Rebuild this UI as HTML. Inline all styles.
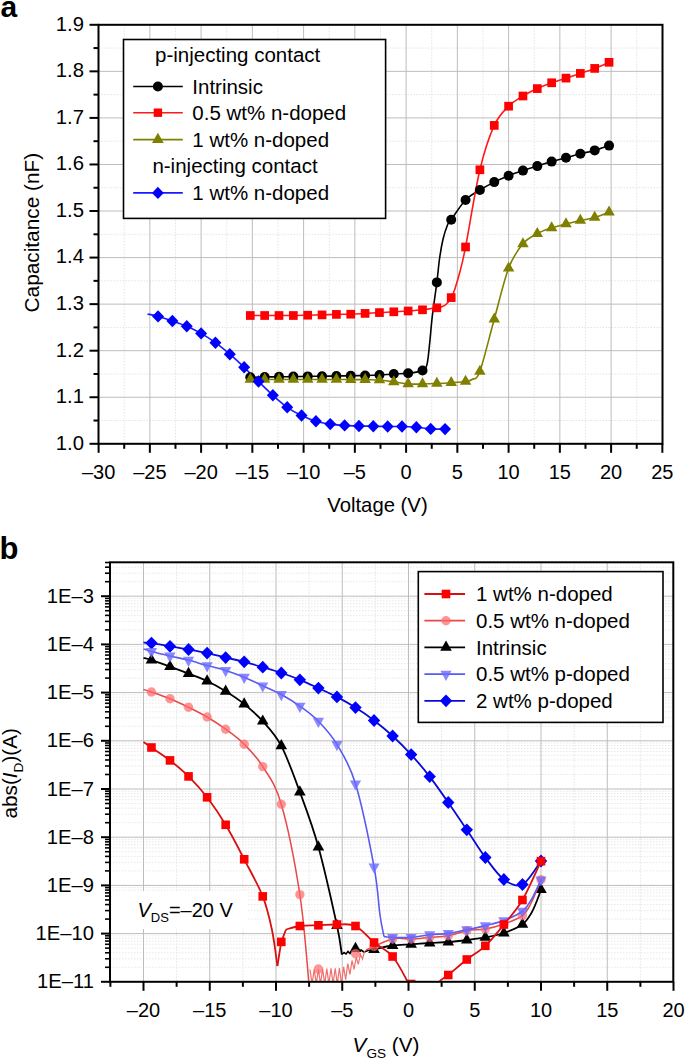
<!DOCTYPE html>
<html><head><meta charset="utf-8"><style>
html,body{margin:0;padding:0;background:#fff;}
body{width:685px;height:1063px;overflow:hidden;font-family:"Liberation Sans", sans-serif;}
svg{display:block;}
</style></head><body>
<svg width="685" height="1063" viewBox="0 0 685 1063" font-family='"Liberation Sans", sans-serif'>
<rect width="685" height="1063" fill="#fff"/>
<text x="0.5" y="16.5" font-size="30" font-weight="bold">a</text>
<line x1="124.23" y1="24.8" x2="124.23" y2="443.8" stroke="#e4e4e4" stroke-width="1" stroke-dasharray="1.5,1.5"/>
<line x1="175.48" y1="24.8" x2="175.48" y2="443.8" stroke="#e4e4e4" stroke-width="1" stroke-dasharray="1.5,1.5"/>
<line x1="226.73" y1="24.8" x2="226.73" y2="443.8" stroke="#e4e4e4" stroke-width="1" stroke-dasharray="1.5,1.5"/>
<line x1="277.98" y1="24.8" x2="277.98" y2="443.8" stroke="#e4e4e4" stroke-width="1" stroke-dasharray="1.5,1.5"/>
<line x1="329.23" y1="24.8" x2="329.23" y2="443.8" stroke="#e4e4e4" stroke-width="1" stroke-dasharray="1.5,1.5"/>
<line x1="380.48" y1="24.8" x2="380.48" y2="443.8" stroke="#e4e4e4" stroke-width="1" stroke-dasharray="1.5,1.5"/>
<line x1="431.73" y1="24.8" x2="431.73" y2="443.8" stroke="#e4e4e4" stroke-width="1" stroke-dasharray="1.5,1.5"/>
<line x1="482.98" y1="24.8" x2="482.98" y2="443.8" stroke="#e4e4e4" stroke-width="1" stroke-dasharray="1.5,1.5"/>
<line x1="534.23" y1="24.8" x2="534.23" y2="443.8" stroke="#e4e4e4" stroke-width="1" stroke-dasharray="1.5,1.5"/>
<line x1="585.48" y1="24.8" x2="585.48" y2="443.8" stroke="#e4e4e4" stroke-width="1" stroke-dasharray="1.5,1.5"/>
<line x1="636.73" y1="24.8" x2="636.73" y2="443.8" stroke="#e4e4e4" stroke-width="1" stroke-dasharray="1.5,1.5"/>
<line x1="98.5" y1="420.52" x2="662.5" y2="420.52" stroke="#e4e4e4" stroke-width="1" stroke-dasharray="1.5,1.5"/>
<line x1="98.5" y1="373.97" x2="662.5" y2="373.97" stroke="#e4e4e4" stroke-width="1" stroke-dasharray="1.5,1.5"/>
<line x1="98.5" y1="327.41" x2="662.5" y2="327.41" stroke="#e4e4e4" stroke-width="1" stroke-dasharray="1.5,1.5"/>
<line x1="98.5" y1="280.85" x2="662.5" y2="280.85" stroke="#e4e4e4" stroke-width="1" stroke-dasharray="1.5,1.5"/>
<line x1="98.5" y1="234.30" x2="662.5" y2="234.30" stroke="#e4e4e4" stroke-width="1" stroke-dasharray="1.5,1.5"/>
<line x1="98.5" y1="187.74" x2="662.5" y2="187.74" stroke="#e4e4e4" stroke-width="1" stroke-dasharray="1.5,1.5"/>
<line x1="98.5" y1="141.19" x2="662.5" y2="141.19" stroke="#e4e4e4" stroke-width="1" stroke-dasharray="1.5,1.5"/>
<line x1="98.5" y1="94.63" x2="662.5" y2="94.63" stroke="#e4e4e4" stroke-width="1" stroke-dasharray="1.5,1.5"/>
<line x1="98.5" y1="48.07" x2="662.5" y2="48.07" stroke="#e4e4e4" stroke-width="1" stroke-dasharray="1.5,1.5"/>
<line x1="149.85" y1="24.8" x2="149.85" y2="443.8" stroke="#bdbdbd" stroke-width="1"/>
<line x1="201.10" y1="24.8" x2="201.10" y2="443.8" stroke="#bdbdbd" stroke-width="1"/>
<line x1="252.35" y1="24.8" x2="252.35" y2="443.8" stroke="#bdbdbd" stroke-width="1"/>
<line x1="303.60" y1="24.8" x2="303.60" y2="443.8" stroke="#bdbdbd" stroke-width="1"/>
<line x1="354.85" y1="24.8" x2="354.85" y2="443.8" stroke="#bdbdbd" stroke-width="1"/>
<line x1="406.10" y1="24.8" x2="406.10" y2="443.8" stroke="#bdbdbd" stroke-width="1"/>
<line x1="457.35" y1="24.8" x2="457.35" y2="443.8" stroke="#bdbdbd" stroke-width="1"/>
<line x1="508.60" y1="24.8" x2="508.60" y2="443.8" stroke="#bdbdbd" stroke-width="1"/>
<line x1="559.85" y1="24.8" x2="559.85" y2="443.8" stroke="#bdbdbd" stroke-width="1"/>
<line x1="611.10" y1="24.8" x2="611.10" y2="443.8" stroke="#bdbdbd" stroke-width="1"/>
<line x1="98.5" y1="397.24" x2="662.5" y2="397.24" stroke="#bdbdbd" stroke-width="1"/>
<line x1="98.5" y1="350.69" x2="662.5" y2="350.69" stroke="#bdbdbd" stroke-width="1"/>
<line x1="98.5" y1="304.13" x2="662.5" y2="304.13" stroke="#bdbdbd" stroke-width="1"/>
<line x1="98.5" y1="257.58" x2="662.5" y2="257.58" stroke="#bdbdbd" stroke-width="1"/>
<line x1="98.5" y1="211.02" x2="662.5" y2="211.02" stroke="#bdbdbd" stroke-width="1"/>
<line x1="98.5" y1="164.46" x2="662.5" y2="164.46" stroke="#bdbdbd" stroke-width="1"/>
<line x1="98.5" y1="117.91" x2="662.5" y2="117.91" stroke="#bdbdbd" stroke-width="1"/>
<line x1="98.5" y1="71.35" x2="662.5" y2="71.35" stroke="#bdbdbd" stroke-width="1"/>
<clipPath id="ca"><rect x="98.5" y="24.8" width="564.0" height="419.0"/></clipPath>
<g clip-path="url(#ca)">
<path d="M147.50,314.00 C149.26,314.40 153.90,315.23 158.05,316.40 C162.20,317.57 167.62,319.37 172.40,321.00 C177.18,322.63 181.97,324.13 186.75,326.20 C191.53,328.27 196.32,330.65 201.10,333.40 C205.88,336.15 210.67,339.23 215.45,342.70 C220.23,346.17 225.02,350.10 229.80,354.20 C234.58,358.30 239.37,362.75 244.15,367.30 C248.93,371.85 253.72,376.83 258.50,381.50 C263.28,386.17 268.07,391.00 272.85,395.30 C277.63,399.60 282.42,403.93 287.20,407.30 C291.98,410.67 296.77,413.18 301.55,415.50 C306.33,417.82 311.12,419.77 315.90,421.20 C320.68,422.63 325.47,423.40 330.25,424.10 C335.03,424.80 339.82,425.08 344.60,425.40 C349.38,425.72 354.17,425.87 358.95,426.00 C363.73,426.13 368.52,426.12 373.30,426.20 C378.08,426.28 382.87,426.45 387.65,426.50 C392.43,426.55 397.22,426.37 402.00,426.50 C406.78,426.63 411.57,426.90 416.35,427.30 C421.13,427.70 425.92,428.60 430.70,428.90 C435.48,429.20 442.66,429.07 445.05,429.10" fill="none" stroke="#1a1aff" stroke-width="1.6"/>
<path d="M250.30,379.50 C252.69,379.50 259.87,379.50 264.65,379.50 C269.43,379.50 274.22,379.50 279.00,379.50 C283.78,379.50 288.57,379.50 293.35,379.50 C298.13,379.50 302.92,379.50 307.70,379.50 C312.48,379.50 317.27,379.50 322.05,379.50 C326.83,379.50 331.62,379.48 336.40,379.50 C341.18,379.52 345.97,379.57 350.75,379.60 C355.53,379.63 360.32,379.63 365.10,379.70 C369.88,379.77 374.67,379.65 379.45,380.00 C384.23,380.35 389.02,381.13 393.80,381.80 C398.58,382.47 403.37,383.63 408.15,384.00 C412.93,384.37 417.72,384.08 422.50,384.00 C427.28,383.92 432.07,383.72 436.85,383.50 C441.63,383.28 446.42,383.03 451.20,382.70 C455.98,382.37 462.08,382.03 465.55,381.50 C469.02,380.97 469.61,381.20 472.00,379.50 C474.39,377.80 476.19,381.35 479.90,371.30 C483.61,361.25 489.47,336.38 494.25,319.20 C499.03,302.02 503.82,280.77 508.60,268.20 C513.38,255.63 518.17,249.57 522.95,243.80 C527.73,238.03 532.52,236.25 537.30,233.60 C542.08,230.95 546.87,229.52 551.65,227.90 C556.43,226.28 561.22,225.13 566.00,223.90 C570.78,222.67 575.57,221.58 580.35,220.50 C585.13,219.42 589.92,218.80 594.70,217.40 C599.48,216.00 606.66,212.98 609.05,212.10" fill="none" stroke="#808000" stroke-width="1.6"/>
<path d="M250.30,377.30 C252.69,377.25 259.87,377.08 264.65,377.00 C269.43,376.92 274.22,376.87 279.00,376.80 C283.78,376.73 288.57,376.67 293.35,376.60 C298.13,376.53 302.92,376.47 307.70,376.40 C312.48,376.33 317.27,376.27 322.05,376.20 C326.83,376.13 331.62,376.07 336.40,376.00 C341.18,375.93 345.97,375.88 350.75,375.80 C355.53,375.72 360.32,375.63 365.10,375.50 C369.88,375.37 374.67,375.25 379.45,375.00 C384.23,374.75 389.02,374.28 393.80,374.00 C398.58,373.72 403.37,373.88 408.15,373.30 C412.93,372.72 419.36,371.98 422.50,370.50 C425.64,369.02 425.80,368.98 427.00,364.40 C428.20,359.82 428.82,351.03 429.70,343.00 C430.58,334.97 431.11,326.30 432.30,316.20 C433.49,306.10 435.65,291.93 436.85,282.40 C438.05,272.87 438.48,266.18 439.50,259.00 C440.52,251.82 441.67,244.97 443.00,239.30 C444.33,233.63 446.13,228.27 447.50,225.00 C448.87,221.73 448.19,223.87 451.20,219.70 C454.21,215.53 460.77,204.95 465.55,200.00 C470.33,195.05 475.12,192.98 479.90,190.00 C484.68,187.02 489.47,184.47 494.25,182.10 C499.03,179.73 503.82,177.72 508.60,175.80 C513.38,173.88 518.17,172.22 522.95,170.60 C527.73,168.98 532.52,167.60 537.30,166.10 C542.08,164.60 546.87,163.00 551.65,161.60 C556.43,160.20 561.22,159.00 566.00,157.70 C570.78,156.40 575.57,155.02 580.35,153.80 C585.13,152.58 589.92,151.77 594.70,150.40 C599.48,149.03 606.66,146.40 609.05,145.60" fill="none" stroke="#000" stroke-width="1.6"/>
<path d="M250.30,315.50 C252.69,315.50 259.87,315.50 264.65,315.50 C269.43,315.50 274.22,315.50 279.00,315.50 C283.78,315.50 288.57,315.55 293.35,315.50 C298.13,315.45 302.92,315.30 307.70,315.20 C312.48,315.10 317.27,315.03 322.05,314.90 C326.83,314.77 331.62,314.52 336.40,314.40 C341.18,314.28 345.97,314.37 350.75,314.20 C355.53,314.03 360.32,313.67 365.10,313.40 C369.88,313.13 374.67,312.87 379.45,312.60 C384.23,312.33 389.02,312.07 393.80,311.80 C398.58,311.53 403.37,311.33 408.15,311.00 C412.93,310.67 417.72,310.33 422.50,309.80 C427.28,309.27 433.72,308.27 436.85,307.80 C439.98,307.33 439.69,307.63 441.30,307.00 C442.91,306.37 444.85,305.57 446.50,304.00 C448.15,302.43 449.83,300.03 451.20,297.60 C452.57,295.17 453.23,293.75 454.70,289.40 C456.17,285.05 458.19,278.57 460.00,271.50 C461.81,264.43 462.23,263.95 465.55,247.00 C468.87,230.05 475.12,190.07 479.90,169.80 C484.68,149.53 489.47,136.00 494.25,125.40 C499.03,114.80 503.82,111.10 508.60,106.20 C513.38,101.30 518.17,98.93 522.95,96.00 C527.73,93.07 532.52,90.80 537.30,88.60 C542.08,86.40 546.87,84.55 551.65,82.80 C556.43,81.05 561.22,79.67 566.00,78.10 C570.78,76.53 575.57,75.02 580.35,73.40 C585.13,71.78 589.92,70.25 594.70,68.40 C599.48,66.55 606.66,63.32 609.05,62.30" fill="none" stroke="#ff1a1a" stroke-width="1.6"/>
<circle cx="250.30" cy="377.30" r="5.0" fill="#000" fill-opacity="1"/>
<circle cx="264.65" cy="377.00" r="5.0" fill="#000" fill-opacity="1"/>
<circle cx="279.00" cy="376.80" r="5.0" fill="#000" fill-opacity="1"/>
<circle cx="293.35" cy="376.60" r="5.0" fill="#000" fill-opacity="1"/>
<circle cx="307.70" cy="376.40" r="5.0" fill="#000" fill-opacity="1"/>
<circle cx="322.05" cy="376.20" r="5.0" fill="#000" fill-opacity="1"/>
<circle cx="336.40" cy="376.00" r="5.0" fill="#000" fill-opacity="1"/>
<circle cx="350.75" cy="375.80" r="5.0" fill="#000" fill-opacity="1"/>
<circle cx="365.10" cy="375.50" r="5.0" fill="#000" fill-opacity="1"/>
<circle cx="379.45" cy="375.00" r="5.0" fill="#000" fill-opacity="1"/>
<circle cx="393.80" cy="374.00" r="5.0" fill="#000" fill-opacity="1"/>
<circle cx="408.15" cy="373.30" r="5.0" fill="#000" fill-opacity="1"/>
<circle cx="422.50" cy="370.50" r="5.0" fill="#000" fill-opacity="1"/>
<circle cx="436.85" cy="282.40" r="5.0" fill="#000" fill-opacity="1"/>
<circle cx="451.20" cy="219.70" r="5.0" fill="#000" fill-opacity="1"/>
<circle cx="465.55" cy="200.00" r="5.0" fill="#000" fill-opacity="1"/>
<circle cx="479.90" cy="190.00" r="5.0" fill="#000" fill-opacity="1"/>
<circle cx="494.25" cy="182.10" r="5.0" fill="#000" fill-opacity="1"/>
<circle cx="508.60" cy="175.80" r="5.0" fill="#000" fill-opacity="1"/>
<circle cx="522.95" cy="170.60" r="5.0" fill="#000" fill-opacity="1"/>
<circle cx="537.30" cy="166.10" r="5.0" fill="#000" fill-opacity="1"/>
<circle cx="551.65" cy="161.60" r="5.0" fill="#000" fill-opacity="1"/>
<circle cx="566.00" cy="157.70" r="5.0" fill="#000" fill-opacity="1"/>
<circle cx="580.35" cy="153.80" r="5.0" fill="#000" fill-opacity="1"/>
<circle cx="594.70" cy="150.40" r="5.0" fill="#000" fill-opacity="1"/>
<circle cx="609.05" cy="145.60" r="5.0" fill="#000" fill-opacity="1"/>
<path d="M250.30,372.83 L256.05,382.83 L244.55,382.83 Z" fill="#808000" fill-opacity="1"/>
<path d="M264.65,372.83 L270.40,382.83 L258.90,382.83 Z" fill="#808000" fill-opacity="1"/>
<path d="M279.00,372.83 L284.75,382.83 L273.25,382.83 Z" fill="#808000" fill-opacity="1"/>
<path d="M293.35,372.83 L299.10,382.83 L287.60,382.83 Z" fill="#808000" fill-opacity="1"/>
<path d="M307.70,372.83 L313.45,382.83 L301.95,382.83 Z" fill="#808000" fill-opacity="1"/>
<path d="M322.05,372.83 L327.80,382.83 L316.30,382.83 Z" fill="#808000" fill-opacity="1"/>
<path d="M336.40,372.83 L342.15,382.83 L330.65,382.83 Z" fill="#808000" fill-opacity="1"/>
<path d="M350.75,372.93 L356.50,382.93 L345.00,382.93 Z" fill="#808000" fill-opacity="1"/>
<path d="M365.10,373.03 L370.85,383.03 L359.35,383.03 Z" fill="#808000" fill-opacity="1"/>
<path d="M379.45,373.33 L385.20,383.33 L373.70,383.33 Z" fill="#808000" fill-opacity="1"/>
<path d="M393.80,375.13 L399.55,385.13 L388.05,385.13 Z" fill="#808000" fill-opacity="1"/>
<path d="M408.15,377.33 L413.90,387.33 L402.40,387.33 Z" fill="#808000" fill-opacity="1"/>
<path d="M422.50,377.33 L428.25,387.33 L416.75,387.33 Z" fill="#808000" fill-opacity="1"/>
<path d="M436.85,376.83 L442.60,386.83 L431.10,386.83 Z" fill="#808000" fill-opacity="1"/>
<path d="M451.20,376.03 L456.95,386.03 L445.45,386.03 Z" fill="#808000" fill-opacity="1"/>
<path d="M465.55,374.83 L471.30,384.83 L459.80,384.83 Z" fill="#808000" fill-opacity="1"/>
<path d="M479.90,364.63 L485.65,374.63 L474.15,374.63 Z" fill="#808000" fill-opacity="1"/>
<path d="M494.25,312.53 L500.00,322.53 L488.50,322.53 Z" fill="#808000" fill-opacity="1"/>
<path d="M508.60,261.53 L514.35,271.53 L502.85,271.53 Z" fill="#808000" fill-opacity="1"/>
<path d="M522.95,237.13 L528.70,247.13 L517.20,247.13 Z" fill="#808000" fill-opacity="1"/>
<path d="M537.30,226.93 L543.05,236.93 L531.55,236.93 Z" fill="#808000" fill-opacity="1"/>
<path d="M551.65,221.23 L557.40,231.23 L545.90,231.23 Z" fill="#808000" fill-opacity="1"/>
<path d="M566.00,217.23 L571.75,227.23 L560.25,227.23 Z" fill="#808000" fill-opacity="1"/>
<path d="M580.35,213.83 L586.10,223.83 L574.60,223.83 Z" fill="#808000" fill-opacity="1"/>
<path d="M594.70,210.73 L600.45,220.73 L588.95,220.73 Z" fill="#808000" fill-opacity="1"/>
<path d="M609.05,205.43 L614.80,215.43 L603.30,215.43 Z" fill="#808000" fill-opacity="1"/>
<rect x="245.95" y="311.15" width="8.7" height="8.7" fill="#ff0000" fill-opacity="1"/>
<rect x="260.30" y="311.15" width="8.7" height="8.7" fill="#ff0000" fill-opacity="1"/>
<rect x="274.65" y="311.15" width="8.7" height="8.7" fill="#ff0000" fill-opacity="1"/>
<rect x="289.00" y="311.15" width="8.7" height="8.7" fill="#ff0000" fill-opacity="1"/>
<rect x="303.35" y="310.85" width="8.7" height="8.7" fill="#ff0000" fill-opacity="1"/>
<rect x="317.70" y="310.55" width="8.7" height="8.7" fill="#ff0000" fill-opacity="1"/>
<rect x="332.05" y="310.05" width="8.7" height="8.7" fill="#ff0000" fill-opacity="1"/>
<rect x="346.40" y="309.85" width="8.7" height="8.7" fill="#ff0000" fill-opacity="1"/>
<rect x="360.75" y="309.05" width="8.7" height="8.7" fill="#ff0000" fill-opacity="1"/>
<rect x="375.10" y="308.25" width="8.7" height="8.7" fill="#ff0000" fill-opacity="1"/>
<rect x="389.45" y="307.45" width="8.7" height="8.7" fill="#ff0000" fill-opacity="1"/>
<rect x="403.80" y="306.65" width="8.7" height="8.7" fill="#ff0000" fill-opacity="1"/>
<rect x="418.15" y="305.45" width="8.7" height="8.7" fill="#ff0000" fill-opacity="1"/>
<rect x="432.50" y="303.45" width="8.7" height="8.7" fill="#ff0000" fill-opacity="1"/>
<rect x="446.85" y="293.25" width="8.7" height="8.7" fill="#ff0000" fill-opacity="1"/>
<rect x="461.20" y="242.65" width="8.7" height="8.7" fill="#ff0000" fill-opacity="1"/>
<rect x="475.55" y="165.45" width="8.7" height="8.7" fill="#ff0000" fill-opacity="1"/>
<rect x="489.90" y="121.05" width="8.7" height="8.7" fill="#ff0000" fill-opacity="1"/>
<rect x="504.25" y="101.85" width="8.7" height="8.7" fill="#ff0000" fill-opacity="1"/>
<rect x="518.60" y="91.65" width="8.7" height="8.7" fill="#ff0000" fill-opacity="1"/>
<rect x="532.95" y="84.25" width="8.7" height="8.7" fill="#ff0000" fill-opacity="1"/>
<rect x="547.30" y="78.45" width="8.7" height="8.7" fill="#ff0000" fill-opacity="1"/>
<rect x="561.65" y="73.75" width="8.7" height="8.7" fill="#ff0000" fill-opacity="1"/>
<rect x="576.00" y="69.05" width="8.7" height="8.7" fill="#ff0000" fill-opacity="1"/>
<rect x="590.35" y="64.05" width="8.7" height="8.7" fill="#ff0000" fill-opacity="1"/>
<rect x="604.70" y="57.95" width="8.7" height="8.7" fill="#ff0000" fill-opacity="1"/>
<path d="M158.05,310.20 L164.05,316.40 L158.05,322.60 L152.05,316.40 Z" fill="#0000ff" fill-opacity="1"/>
<path d="M172.40,314.80 L178.40,321.00 L172.40,327.20 L166.40,321.00 Z" fill="#0000ff" fill-opacity="1"/>
<path d="M186.75,320.00 L192.75,326.20 L186.75,332.40 L180.75,326.20 Z" fill="#0000ff" fill-opacity="1"/>
<path d="M201.10,327.20 L207.10,333.40 L201.10,339.60 L195.10,333.40 Z" fill="#0000ff" fill-opacity="1"/>
<path d="M215.45,336.50 L221.45,342.70 L215.45,348.90 L209.45,342.70 Z" fill="#0000ff" fill-opacity="1"/>
<path d="M229.80,348.00 L235.80,354.20 L229.80,360.40 L223.80,354.20 Z" fill="#0000ff" fill-opacity="1"/>
<path d="M244.15,361.10 L250.15,367.30 L244.15,373.50 L238.15,367.30 Z" fill="#0000ff" fill-opacity="1"/>
<path d="M258.50,375.30 L264.50,381.50 L258.50,387.70 L252.50,381.50 Z" fill="#0000ff" fill-opacity="1"/>
<path d="M272.85,389.10 L278.85,395.30 L272.85,401.50 L266.85,395.30 Z" fill="#0000ff" fill-opacity="1"/>
<path d="M287.20,401.10 L293.20,407.30 L287.20,413.50 L281.20,407.30 Z" fill="#0000ff" fill-opacity="1"/>
<path d="M301.55,409.30 L307.55,415.50 L301.55,421.70 L295.55,415.50 Z" fill="#0000ff" fill-opacity="1"/>
<path d="M315.90,415.00 L321.90,421.20 L315.90,427.40 L309.90,421.20 Z" fill="#0000ff" fill-opacity="1"/>
<path d="M330.25,417.90 L336.25,424.10 L330.25,430.30 L324.25,424.10 Z" fill="#0000ff" fill-opacity="1"/>
<path d="M344.60,419.20 L350.60,425.40 L344.60,431.60 L338.60,425.40 Z" fill="#0000ff" fill-opacity="1"/>
<path d="M358.95,419.80 L364.95,426.00 L358.95,432.20 L352.95,426.00 Z" fill="#0000ff" fill-opacity="1"/>
<path d="M373.30,420.00 L379.30,426.20 L373.30,432.40 L367.30,426.20 Z" fill="#0000ff" fill-opacity="1"/>
<path d="M387.65,420.30 L393.65,426.50 L387.65,432.70 L381.65,426.50 Z" fill="#0000ff" fill-opacity="1"/>
<path d="M402.00,420.30 L408.00,426.50 L402.00,432.70 L396.00,426.50 Z" fill="#0000ff" fill-opacity="1"/>
<path d="M416.35,421.10 L422.35,427.30 L416.35,433.50 L410.35,427.30 Z" fill="#0000ff" fill-opacity="1"/>
<path d="M430.70,422.70 L436.70,428.90 L430.70,435.10 L424.70,428.90 Z" fill="#0000ff" fill-opacity="1"/>
<path d="M445.05,422.90 L451.05,429.10 L445.05,435.30 L439.05,429.10 Z" fill="#0000ff" fill-opacity="1"/>
</g>
<rect x="98.5" y="24.8" width="564.0" height="419.0" fill="none" stroke="#000" stroke-width="2"/>
<text x="84.0" y="449.70" font-size="20.3" text-anchor="end">1.0</text>
<text x="84.0" y="403.14" font-size="20.3" text-anchor="end">1.1</text>
<text x="84.0" y="356.59" font-size="20.3" text-anchor="end">1.2</text>
<text x="84.0" y="310.03" font-size="20.3" text-anchor="end">1.3</text>
<text x="84.0" y="263.48" font-size="20.3" text-anchor="end">1.4</text>
<text x="84.0" y="216.92" font-size="20.3" text-anchor="end">1.5</text>
<text x="84.0" y="170.36" font-size="20.3" text-anchor="end">1.6</text>
<text x="84.0" y="123.81" font-size="20.3" text-anchor="end">1.7</text>
<text x="84.0" y="77.25" font-size="20.3" text-anchor="end">1.8</text>
<text x="84.0" y="30.70" font-size="20.3" text-anchor="end">1.9</text>
<text x="98.60" y="479" font-size="20" text-anchor="middle">–30</text>
<text x="149.85" y="479" font-size="20" text-anchor="middle">–25</text>
<text x="201.10" y="479" font-size="20" text-anchor="middle">–20</text>
<text x="252.35" y="479" font-size="20" text-anchor="middle">–15</text>
<text x="303.60" y="479" font-size="20" text-anchor="middle">–10</text>
<text x="354.85" y="479" font-size="20" text-anchor="middle">–5</text>
<text x="406.10" y="479" font-size="20" text-anchor="middle">0</text>
<text x="457.35" y="479" font-size="20" text-anchor="middle">5</text>
<text x="508.60" y="479" font-size="20" text-anchor="middle">10</text>
<text x="559.85" y="479" font-size="20" text-anchor="middle">15</text>
<text x="611.10" y="479" font-size="20" text-anchor="middle">20</text>
<text x="662.35" y="479" font-size="20" text-anchor="middle">25</text>
<line x1="89.5" y1="443.80" x2="98.5" y2="443.80" stroke="#000" stroke-width="2"/>
<line x1="89.5" y1="397.24" x2="98.5" y2="397.24" stroke="#000" stroke-width="2"/>
<line x1="89.5" y1="350.69" x2="98.5" y2="350.69" stroke="#000" stroke-width="2"/>
<line x1="89.5" y1="304.13" x2="98.5" y2="304.13" stroke="#000" stroke-width="2"/>
<line x1="89.5" y1="257.58" x2="98.5" y2="257.58" stroke="#000" stroke-width="2"/>
<line x1="89.5" y1="211.02" x2="98.5" y2="211.02" stroke="#000" stroke-width="2"/>
<line x1="89.5" y1="164.46" x2="98.5" y2="164.46" stroke="#000" stroke-width="2"/>
<line x1="89.5" y1="117.91" x2="98.5" y2="117.91" stroke="#000" stroke-width="2"/>
<line x1="89.5" y1="71.35" x2="98.5" y2="71.35" stroke="#000" stroke-width="2"/>
<line x1="89.5" y1="24.80" x2="98.5" y2="24.80" stroke="#000" stroke-width="2"/>
<line x1="93.5" y1="420.52" x2="98.5" y2="420.52" stroke="#000" stroke-width="2"/>
<line x1="93.5" y1="373.97" x2="98.5" y2="373.97" stroke="#000" stroke-width="2"/>
<line x1="93.5" y1="327.41" x2="98.5" y2="327.41" stroke="#000" stroke-width="2"/>
<line x1="93.5" y1="280.85" x2="98.5" y2="280.85" stroke="#000" stroke-width="2"/>
<line x1="93.5" y1="234.30" x2="98.5" y2="234.30" stroke="#000" stroke-width="2"/>
<line x1="93.5" y1="187.74" x2="98.5" y2="187.74" stroke="#000" stroke-width="2"/>
<line x1="93.5" y1="141.19" x2="98.5" y2="141.19" stroke="#000" stroke-width="2"/>
<line x1="93.5" y1="94.63" x2="98.5" y2="94.63" stroke="#000" stroke-width="2"/>
<line x1="93.5" y1="48.07" x2="98.5" y2="48.07" stroke="#000" stroke-width="2"/>
<line x1="98.60" y1="443.8" x2="98.60" y2="452.8" stroke="#000" stroke-width="2"/>
<line x1="149.85" y1="443.8" x2="149.85" y2="452.8" stroke="#000" stroke-width="2"/>
<line x1="201.10" y1="443.8" x2="201.10" y2="452.8" stroke="#000" stroke-width="2"/>
<line x1="252.35" y1="443.8" x2="252.35" y2="452.8" stroke="#000" stroke-width="2"/>
<line x1="303.60" y1="443.8" x2="303.60" y2="452.8" stroke="#000" stroke-width="2"/>
<line x1="354.85" y1="443.8" x2="354.85" y2="452.8" stroke="#000" stroke-width="2"/>
<line x1="406.10" y1="443.8" x2="406.10" y2="452.8" stroke="#000" stroke-width="2"/>
<line x1="457.35" y1="443.8" x2="457.35" y2="452.8" stroke="#000" stroke-width="2"/>
<line x1="508.60" y1="443.8" x2="508.60" y2="452.8" stroke="#000" stroke-width="2"/>
<line x1="559.85" y1="443.8" x2="559.85" y2="452.8" stroke="#000" stroke-width="2"/>
<line x1="611.10" y1="443.8" x2="611.10" y2="452.8" stroke="#000" stroke-width="2"/>
<line x1="662.35" y1="443.8" x2="662.35" y2="452.8" stroke="#000" stroke-width="2"/>
<line x1="124.23" y1="443.8" x2="124.23" y2="448.8" stroke="#000" stroke-width="2"/>
<line x1="175.48" y1="443.8" x2="175.48" y2="448.8" stroke="#000" stroke-width="2"/>
<line x1="226.73" y1="443.8" x2="226.73" y2="448.8" stroke="#000" stroke-width="2"/>
<line x1="277.98" y1="443.8" x2="277.98" y2="448.8" stroke="#000" stroke-width="2"/>
<line x1="329.23" y1="443.8" x2="329.23" y2="448.8" stroke="#000" stroke-width="2"/>
<line x1="380.48" y1="443.8" x2="380.48" y2="448.8" stroke="#000" stroke-width="2"/>
<line x1="431.73" y1="443.8" x2="431.73" y2="448.8" stroke="#000" stroke-width="2"/>
<line x1="482.98" y1="443.8" x2="482.98" y2="448.8" stroke="#000" stroke-width="2"/>
<line x1="534.23" y1="443.8" x2="534.23" y2="448.8" stroke="#000" stroke-width="2"/>
<line x1="585.48" y1="443.8" x2="585.48" y2="448.8" stroke="#000" stroke-width="2"/>
<line x1="636.73" y1="443.8" x2="636.73" y2="448.8" stroke="#000" stroke-width="2"/>
<text x="327.3" y="512" font-size="20.3">Voltage (V)</text>
<text transform="translate(39.4,232.65) rotate(-90)" font-size="20.8" text-anchor="middle">Capacitance (nF)</text>
<rect x="123.5" y="39.5" width="262.1" height="178.9" fill="#fff" stroke="#000" stroke-width="1.6"/>
<text x="155.0" y="61.5" font-size="20.5">p-injecting contact</text>
<line x1="133.2" y1="86.5" x2="182.8" y2="86.5" stroke="#000" stroke-width="1.6"/>
<circle cx="157.90" cy="86.50" r="5.0" fill="#000" fill-opacity="1"/>
<text x="192.3" y="93.70" font-size="20.5">Intrinsic</text>
<line x1="133.2" y1="112.7" x2="182.8" y2="112.7" stroke="#ff1a1a" stroke-width="1.6"/>
<rect x="153.70" y="108.50" width="8.4" height="8.4" fill="#ff0000" fill-opacity="1"/>
<text x="192.3" y="119.90" font-size="20.5">0.5 wt% n-doped</text>
<line x1="133.2" y1="139.6" x2="182.8" y2="139.6" stroke="#808000" stroke-width="1.6"/>
<path d="M157.90,132.73 L163.80,143.03 L152.00,143.03 Z" fill="#808000" fill-opacity="1"/>
<text x="192.3" y="146.80" font-size="20.5">1 wt% n-doped</text>
<line x1="133.2" y1="192.9" x2="182.8" y2="192.9" stroke="#1a1aff" stroke-width="1.6"/>
<path d="M157.90,186.70 L163.80,192.90 L157.90,199.10 L152.00,192.90 Z" fill="#0000ff" fill-opacity="1"/>
<text x="192.3" y="200.10" font-size="20.5">1 wt% n-doped</text>
<text x="152.4" y="173.0" font-size="20.5">n-injecting contact</text>
<text x="-0.4" y="559.0" font-size="31" font-weight="bold">b</text>
<line x1="176.62" y1="562.3" x2="176.62" y2="981.8" stroke="#e4e4e4" stroke-width="1" stroke-dasharray="1.5,1.5"/>
<line x1="242.88" y1="562.3" x2="242.88" y2="981.8" stroke="#e4e4e4" stroke-width="1" stroke-dasharray="1.5,1.5"/>
<line x1="309.12" y1="562.3" x2="309.12" y2="981.8" stroke="#e4e4e4" stroke-width="1" stroke-dasharray="1.5,1.5"/>
<line x1="375.38" y1="562.3" x2="375.38" y2="981.8" stroke="#e4e4e4" stroke-width="1" stroke-dasharray="1.5,1.5"/>
<line x1="441.62" y1="562.3" x2="441.62" y2="981.8" stroke="#e4e4e4" stroke-width="1" stroke-dasharray="1.5,1.5"/>
<line x1="507.88" y1="562.3" x2="507.88" y2="981.8" stroke="#e4e4e4" stroke-width="1" stroke-dasharray="1.5,1.5"/>
<line x1="574.12" y1="562.3" x2="574.12" y2="981.8" stroke="#e4e4e4" stroke-width="1" stroke-dasharray="1.5,1.5"/>
<line x1="640.38" y1="562.3" x2="640.38" y2="981.8" stroke="#e4e4e4" stroke-width="1" stroke-dasharray="1.5,1.5"/>
<line x1="706.62" y1="562.3" x2="706.62" y2="981.8" stroke="#e4e4e4" stroke-width="1" stroke-dasharray="1.5,1.5"/>
<line x1="110.0" y1="967.29" x2="673.3" y2="967.29" stroke="#e8e8e8" stroke-width="1" stroke-dasharray="1.5,1.5"/>
<line x1="110.0" y1="958.80" x2="673.3" y2="958.80" stroke="#e8e8e8" stroke-width="1" stroke-dasharray="1.5,1.5"/>
<line x1="110.0" y1="952.78" x2="673.3" y2="952.78" stroke="#e8e8e8" stroke-width="1" stroke-dasharray="1.5,1.5"/>
<line x1="110.0" y1="948.11" x2="673.3" y2="948.11" stroke="#e8e8e8" stroke-width="1" stroke-dasharray="1.5,1.5"/>
<line x1="110.0" y1="944.29" x2="673.3" y2="944.29" stroke="#e8e8e8" stroke-width="1" stroke-dasharray="1.5,1.5"/>
<line x1="110.0" y1="941.07" x2="673.3" y2="941.07" stroke="#e8e8e8" stroke-width="1" stroke-dasharray="1.5,1.5"/>
<line x1="110.0" y1="938.27" x2="673.3" y2="938.27" stroke="#e8e8e8" stroke-width="1" stroke-dasharray="1.5,1.5"/>
<line x1="110.0" y1="935.81" x2="673.3" y2="935.81" stroke="#e8e8e8" stroke-width="1" stroke-dasharray="1.5,1.5"/>
<line x1="110.0" y1="919.09" x2="673.3" y2="919.09" stroke="#e8e8e8" stroke-width="1" stroke-dasharray="1.5,1.5"/>
<line x1="110.0" y1="910.60" x2="673.3" y2="910.60" stroke="#e8e8e8" stroke-width="1" stroke-dasharray="1.5,1.5"/>
<line x1="110.0" y1="904.58" x2="673.3" y2="904.58" stroke="#e8e8e8" stroke-width="1" stroke-dasharray="1.5,1.5"/>
<line x1="110.0" y1="899.91" x2="673.3" y2="899.91" stroke="#e8e8e8" stroke-width="1" stroke-dasharray="1.5,1.5"/>
<line x1="110.0" y1="896.09" x2="673.3" y2="896.09" stroke="#e8e8e8" stroke-width="1" stroke-dasharray="1.5,1.5"/>
<line x1="110.0" y1="892.87" x2="673.3" y2="892.87" stroke="#e8e8e8" stroke-width="1" stroke-dasharray="1.5,1.5"/>
<line x1="110.0" y1="890.07" x2="673.3" y2="890.07" stroke="#e8e8e8" stroke-width="1" stroke-dasharray="1.5,1.5"/>
<line x1="110.0" y1="887.61" x2="673.3" y2="887.61" stroke="#e8e8e8" stroke-width="1" stroke-dasharray="1.5,1.5"/>
<line x1="110.0" y1="870.89" x2="673.3" y2="870.89" stroke="#e8e8e8" stroke-width="1" stroke-dasharray="1.5,1.5"/>
<line x1="110.0" y1="862.40" x2="673.3" y2="862.40" stroke="#e8e8e8" stroke-width="1" stroke-dasharray="1.5,1.5"/>
<line x1="110.0" y1="856.38" x2="673.3" y2="856.38" stroke="#e8e8e8" stroke-width="1" stroke-dasharray="1.5,1.5"/>
<line x1="110.0" y1="851.71" x2="673.3" y2="851.71" stroke="#e8e8e8" stroke-width="1" stroke-dasharray="1.5,1.5"/>
<line x1="110.0" y1="847.89" x2="673.3" y2="847.89" stroke="#e8e8e8" stroke-width="1" stroke-dasharray="1.5,1.5"/>
<line x1="110.0" y1="844.67" x2="673.3" y2="844.67" stroke="#e8e8e8" stroke-width="1" stroke-dasharray="1.5,1.5"/>
<line x1="110.0" y1="841.87" x2="673.3" y2="841.87" stroke="#e8e8e8" stroke-width="1" stroke-dasharray="1.5,1.5"/>
<line x1="110.0" y1="839.41" x2="673.3" y2="839.41" stroke="#e8e8e8" stroke-width="1" stroke-dasharray="1.5,1.5"/>
<line x1="110.0" y1="822.69" x2="673.3" y2="822.69" stroke="#e8e8e8" stroke-width="1" stroke-dasharray="1.5,1.5"/>
<line x1="110.0" y1="814.20" x2="673.3" y2="814.20" stroke="#e8e8e8" stroke-width="1" stroke-dasharray="1.5,1.5"/>
<line x1="110.0" y1="808.18" x2="673.3" y2="808.18" stroke="#e8e8e8" stroke-width="1" stroke-dasharray="1.5,1.5"/>
<line x1="110.0" y1="803.51" x2="673.3" y2="803.51" stroke="#e8e8e8" stroke-width="1" stroke-dasharray="1.5,1.5"/>
<line x1="110.0" y1="799.69" x2="673.3" y2="799.69" stroke="#e8e8e8" stroke-width="1" stroke-dasharray="1.5,1.5"/>
<line x1="110.0" y1="796.47" x2="673.3" y2="796.47" stroke="#e8e8e8" stroke-width="1" stroke-dasharray="1.5,1.5"/>
<line x1="110.0" y1="793.67" x2="673.3" y2="793.67" stroke="#e8e8e8" stroke-width="1" stroke-dasharray="1.5,1.5"/>
<line x1="110.0" y1="791.21" x2="673.3" y2="791.21" stroke="#e8e8e8" stroke-width="1" stroke-dasharray="1.5,1.5"/>
<line x1="110.0" y1="774.49" x2="673.3" y2="774.49" stroke="#e8e8e8" stroke-width="1" stroke-dasharray="1.5,1.5"/>
<line x1="110.0" y1="766.00" x2="673.3" y2="766.00" stroke="#e8e8e8" stroke-width="1" stroke-dasharray="1.5,1.5"/>
<line x1="110.0" y1="759.98" x2="673.3" y2="759.98" stroke="#e8e8e8" stroke-width="1" stroke-dasharray="1.5,1.5"/>
<line x1="110.0" y1="755.31" x2="673.3" y2="755.31" stroke="#e8e8e8" stroke-width="1" stroke-dasharray="1.5,1.5"/>
<line x1="110.0" y1="751.49" x2="673.3" y2="751.49" stroke="#e8e8e8" stroke-width="1" stroke-dasharray="1.5,1.5"/>
<line x1="110.0" y1="748.27" x2="673.3" y2="748.27" stroke="#e8e8e8" stroke-width="1" stroke-dasharray="1.5,1.5"/>
<line x1="110.0" y1="745.47" x2="673.3" y2="745.47" stroke="#e8e8e8" stroke-width="1" stroke-dasharray="1.5,1.5"/>
<line x1="110.0" y1="743.01" x2="673.3" y2="743.01" stroke="#e8e8e8" stroke-width="1" stroke-dasharray="1.5,1.5"/>
<line x1="110.0" y1="726.29" x2="673.3" y2="726.29" stroke="#e8e8e8" stroke-width="1" stroke-dasharray="1.5,1.5"/>
<line x1="110.0" y1="717.80" x2="673.3" y2="717.80" stroke="#e8e8e8" stroke-width="1" stroke-dasharray="1.5,1.5"/>
<line x1="110.0" y1="711.78" x2="673.3" y2="711.78" stroke="#e8e8e8" stroke-width="1" stroke-dasharray="1.5,1.5"/>
<line x1="110.0" y1="707.11" x2="673.3" y2="707.11" stroke="#e8e8e8" stroke-width="1" stroke-dasharray="1.5,1.5"/>
<line x1="110.0" y1="703.29" x2="673.3" y2="703.29" stroke="#e8e8e8" stroke-width="1" stroke-dasharray="1.5,1.5"/>
<line x1="110.0" y1="700.07" x2="673.3" y2="700.07" stroke="#e8e8e8" stroke-width="1" stroke-dasharray="1.5,1.5"/>
<line x1="110.0" y1="697.27" x2="673.3" y2="697.27" stroke="#e8e8e8" stroke-width="1" stroke-dasharray="1.5,1.5"/>
<line x1="110.0" y1="694.81" x2="673.3" y2="694.81" stroke="#e8e8e8" stroke-width="1" stroke-dasharray="1.5,1.5"/>
<line x1="110.0" y1="678.09" x2="673.3" y2="678.09" stroke="#e8e8e8" stroke-width="1" stroke-dasharray="1.5,1.5"/>
<line x1="110.0" y1="669.60" x2="673.3" y2="669.60" stroke="#e8e8e8" stroke-width="1" stroke-dasharray="1.5,1.5"/>
<line x1="110.0" y1="663.58" x2="673.3" y2="663.58" stroke="#e8e8e8" stroke-width="1" stroke-dasharray="1.5,1.5"/>
<line x1="110.0" y1="658.91" x2="673.3" y2="658.91" stroke="#e8e8e8" stroke-width="1" stroke-dasharray="1.5,1.5"/>
<line x1="110.0" y1="655.09" x2="673.3" y2="655.09" stroke="#e8e8e8" stroke-width="1" stroke-dasharray="1.5,1.5"/>
<line x1="110.0" y1="651.87" x2="673.3" y2="651.87" stroke="#e8e8e8" stroke-width="1" stroke-dasharray="1.5,1.5"/>
<line x1="110.0" y1="649.07" x2="673.3" y2="649.07" stroke="#e8e8e8" stroke-width="1" stroke-dasharray="1.5,1.5"/>
<line x1="110.0" y1="646.61" x2="673.3" y2="646.61" stroke="#e8e8e8" stroke-width="1" stroke-dasharray="1.5,1.5"/>
<line x1="110.0" y1="629.89" x2="673.3" y2="629.89" stroke="#e8e8e8" stroke-width="1" stroke-dasharray="1.5,1.5"/>
<line x1="110.0" y1="621.40" x2="673.3" y2="621.40" stroke="#e8e8e8" stroke-width="1" stroke-dasharray="1.5,1.5"/>
<line x1="110.0" y1="615.38" x2="673.3" y2="615.38" stroke="#e8e8e8" stroke-width="1" stroke-dasharray="1.5,1.5"/>
<line x1="110.0" y1="610.71" x2="673.3" y2="610.71" stroke="#e8e8e8" stroke-width="1" stroke-dasharray="1.5,1.5"/>
<line x1="110.0" y1="606.89" x2="673.3" y2="606.89" stroke="#e8e8e8" stroke-width="1" stroke-dasharray="1.5,1.5"/>
<line x1="110.0" y1="603.67" x2="673.3" y2="603.67" stroke="#e8e8e8" stroke-width="1" stroke-dasharray="1.5,1.5"/>
<line x1="110.0" y1="600.87" x2="673.3" y2="600.87" stroke="#e8e8e8" stroke-width="1" stroke-dasharray="1.5,1.5"/>
<line x1="110.0" y1="598.41" x2="673.3" y2="598.41" stroke="#e8e8e8" stroke-width="1" stroke-dasharray="1.5,1.5"/>
<line x1="110.0" y1="581.69" x2="673.3" y2="581.69" stroke="#e8e8e8" stroke-width="1" stroke-dasharray="1.5,1.5"/>
<line x1="110.0" y1="573.20" x2="673.3" y2="573.20" stroke="#e8e8e8" stroke-width="1" stroke-dasharray="1.5,1.5"/>
<line x1="110.0" y1="567.18" x2="673.3" y2="567.18" stroke="#e8e8e8" stroke-width="1" stroke-dasharray="1.5,1.5"/>
<line x1="110.0" y1="562.51" x2="673.3" y2="562.51" stroke="#e8e8e8" stroke-width="1" stroke-dasharray="1.5,1.5"/>
<line x1="143.50" y1="562.3" x2="143.50" y2="981.8" stroke="#bdbdbd" stroke-width="1"/>
<line x1="209.75" y1="562.3" x2="209.75" y2="981.8" stroke="#bdbdbd" stroke-width="1"/>
<line x1="276.00" y1="562.3" x2="276.00" y2="981.8" stroke="#bdbdbd" stroke-width="1"/>
<line x1="342.25" y1="562.3" x2="342.25" y2="981.8" stroke="#bdbdbd" stroke-width="1"/>
<line x1="408.50" y1="562.3" x2="408.50" y2="981.8" stroke="#bdbdbd" stroke-width="1"/>
<line x1="474.75" y1="562.3" x2="474.75" y2="981.8" stroke="#bdbdbd" stroke-width="1"/>
<line x1="541.00" y1="562.3" x2="541.00" y2="981.8" stroke="#bdbdbd" stroke-width="1"/>
<line x1="607.25" y1="562.3" x2="607.25" y2="981.8" stroke="#bdbdbd" stroke-width="1"/>
<line x1="110.0" y1="933.60" x2="673.3" y2="933.60" stroke="#bdbdbd" stroke-width="1"/>
<line x1="110.0" y1="885.40" x2="673.3" y2="885.40" stroke="#bdbdbd" stroke-width="1"/>
<line x1="110.0" y1="837.20" x2="673.3" y2="837.20" stroke="#bdbdbd" stroke-width="1"/>
<line x1="110.0" y1="789.00" x2="673.3" y2="789.00" stroke="#bdbdbd" stroke-width="1"/>
<line x1="110.0" y1="740.80" x2="673.3" y2="740.80" stroke="#bdbdbd" stroke-width="1"/>
<line x1="110.0" y1="692.60" x2="673.3" y2="692.60" stroke="#bdbdbd" stroke-width="1"/>
<line x1="110.0" y1="644.40" x2="673.3" y2="644.40" stroke="#bdbdbd" stroke-width="1"/>
<line x1="110.0" y1="596.20" x2="673.3" y2="596.20" stroke="#bdbdbd" stroke-width="1"/>
<rect x="112" y="891" width="136" height="38" fill="#fff"/>
<clipPath id="cb"><rect x="110.0" y="562.3" width="563.3" height="419.5"/></clipPath>
<g clip-path="url(#cb)">
<path d="M143.50,642.50 C144.82,642.60 147.03,642.47 151.45,643.10 C155.87,643.73 163.82,645.23 170.00,646.30 C176.18,647.37 182.37,648.37 188.55,649.50 C194.73,650.63 200.92,651.75 207.10,653.10 C213.28,654.45 219.47,656.15 225.65,657.60 C231.83,659.05 238.02,660.20 244.20,661.80 C250.38,663.40 256.57,665.33 262.75,667.20 C268.93,669.07 275.12,670.90 281.30,673.00 C287.48,675.10 293.67,677.28 299.85,679.80 C306.03,682.32 312.22,685.25 318.40,688.10 C324.58,690.95 330.77,693.65 336.95,696.90 C343.13,700.15 349.32,703.67 355.50,707.60 C361.68,711.53 367.87,715.77 374.05,720.50 C380.23,725.23 386.42,730.32 392.60,736.00 C398.78,741.68 404.97,747.83 411.15,754.60 C417.33,761.37 423.52,768.62 429.70,776.60 C435.88,784.58 442.07,793.63 448.25,802.50 C454.43,811.37 460.62,820.63 466.80,829.80 C472.98,838.97 479.17,849.22 485.35,857.50 C491.53,865.78 497.72,875.00 503.90,879.50 C510.08,884.00 516.27,887.58 522.45,884.50 C528.63,881.42 537.91,864.92 541.00,861.00" fill="none" stroke="#0a0ad8" stroke-width="1.8"/>
<path d="M151.45,636.70 L157.65,643.10 L151.45,649.50 L145.25,643.10 Z" fill="#0000ff" fill-opacity="1"/>
<path d="M170.00,639.90 L176.20,646.30 L170.00,652.70 L163.80,646.30 Z" fill="#0000ff" fill-opacity="1"/>
<path d="M188.55,643.10 L194.75,649.50 L188.55,655.90 L182.35,649.50 Z" fill="#0000ff" fill-opacity="1"/>
<path d="M207.10,646.70 L213.30,653.10 L207.10,659.50 L200.90,653.10 Z" fill="#0000ff" fill-opacity="1"/>
<path d="M225.65,651.20 L231.85,657.60 L225.65,664.00 L219.45,657.60 Z" fill="#0000ff" fill-opacity="1"/>
<path d="M244.20,655.40 L250.40,661.80 L244.20,668.20 L238.00,661.80 Z" fill="#0000ff" fill-opacity="1"/>
<path d="M262.75,660.80 L268.95,667.20 L262.75,673.60 L256.55,667.20 Z" fill="#0000ff" fill-opacity="1"/>
<path d="M281.30,666.60 L287.50,673.00 L281.30,679.40 L275.10,673.00 Z" fill="#0000ff" fill-opacity="1"/>
<path d="M299.85,673.40 L306.05,679.80 L299.85,686.20 L293.65,679.80 Z" fill="#0000ff" fill-opacity="1"/>
<path d="M318.40,681.70 L324.60,688.10 L318.40,694.50 L312.20,688.10 Z" fill="#0000ff" fill-opacity="1"/>
<path d="M336.95,690.50 L343.15,696.90 L336.95,703.30 L330.75,696.90 Z" fill="#0000ff" fill-opacity="1"/>
<path d="M355.50,701.20 L361.70,707.60 L355.50,714.00 L349.30,707.60 Z" fill="#0000ff" fill-opacity="1"/>
<path d="M374.05,714.10 L380.25,720.50 L374.05,726.90 L367.85,720.50 Z" fill="#0000ff" fill-opacity="1"/>
<path d="M392.60,729.60 L398.80,736.00 L392.60,742.40 L386.40,736.00 Z" fill="#0000ff" fill-opacity="1"/>
<path d="M411.15,748.20 L417.35,754.60 L411.15,761.00 L404.95,754.60 Z" fill="#0000ff" fill-opacity="1"/>
<path d="M429.70,770.20 L435.90,776.60 L429.70,783.00 L423.50,776.60 Z" fill="#0000ff" fill-opacity="1"/>
<path d="M448.25,796.10 L454.45,802.50 L448.25,808.90 L442.05,802.50 Z" fill="#0000ff" fill-opacity="1"/>
<path d="M466.80,823.40 L473.00,829.80 L466.80,836.20 L460.60,829.80 Z" fill="#0000ff" fill-opacity="1"/>
<path d="M485.35,851.10 L491.55,857.50 L485.35,863.90 L479.15,857.50 Z" fill="#0000ff" fill-opacity="1"/>
<path d="M503.90,873.10 L510.10,879.50 L503.90,885.90 L497.70,879.50 Z" fill="#0000ff" fill-opacity="1"/>
<path d="M522.45,878.10 L528.65,884.50 L522.45,890.90 L516.25,884.50 Z" fill="#0000ff" fill-opacity="1"/>
<path d="M541.00,854.60 L547.20,861.00 L541.00,867.40 L534.80,861.00 Z" fill="#0000ff" fill-opacity="1"/>
<path d="M143.50,657.90 C144.82,658.27 147.03,658.65 151.45,660.10 C155.87,661.55 163.82,664.35 170.00,666.60 C176.18,668.85 182.37,671.20 188.55,673.60 C194.73,676.00 200.92,678.05 207.10,681.00 C213.28,683.95 219.47,687.45 225.65,691.30 C231.83,695.15 238.02,699.12 244.20,704.10 C250.38,709.08 256.57,714.23 262.75,721.20 C268.93,728.17 275.12,734.10 281.30,745.90 C287.48,757.70 293.67,775.15 299.85,792.00 C306.03,808.85 312.22,824.75 318.40,847.00 C324.58,869.25 333.05,907.58 336.95,925.50 C340.85,943.42 340.99,949.67 341.80,954.50" fill="none" stroke="#000" stroke-width="1.8"/>
<path d="M341.80,954.50 L344.00,952.50 L346.00,954.00 L348.00,951.50 L350.00,953.50 L352.00,951.00 L355.30,949.50 L358.00,951.50 L361.00,950.00 L364.00,952.00 L368.00,950.50 L374.00,949.50" fill="none" stroke="#000" stroke-width="1.6"/>
<path d="M374.00,949.50 C377.10,948.83 386.41,946.37 392.60,945.50 C398.79,944.63 404.97,944.72 411.15,944.30 C417.33,943.88 423.52,943.38 429.70,943.00 C435.88,942.62 442.07,942.50 448.25,942.00 C454.43,941.50 460.62,940.77 466.80,940.00 C472.98,939.23 479.17,938.57 485.35,937.40 C491.53,936.23 497.72,935.18 503.90,933.00 C510.08,930.82 517.87,927.63 522.45,924.30 C527.03,920.97 528.94,917.05 531.40,913.00 C533.86,908.95 535.60,903.88 537.20,900.00 C538.80,896.12 540.37,891.42 541.00,889.70" fill="none" stroke="#000" stroke-width="1.8"/>
<path d="M151.45,653.30 L157.25,663.50 L145.65,663.50 Z" fill="#000" fill-opacity="1"/>
<path d="M170.00,659.80 L175.80,670.00 L164.20,670.00 Z" fill="#000" fill-opacity="1"/>
<path d="M188.55,666.80 L194.35,677.00 L182.75,677.00 Z" fill="#000" fill-opacity="1"/>
<path d="M207.10,674.20 L212.90,684.40 L201.30,684.40 Z" fill="#000" fill-opacity="1"/>
<path d="M225.65,684.50 L231.45,694.70 L219.85,694.70 Z" fill="#000" fill-opacity="1"/>
<path d="M244.20,697.30 L250.00,707.50 L238.40,707.50 Z" fill="#000" fill-opacity="1"/>
<path d="M262.75,714.40 L268.55,724.60 L256.95,724.60 Z" fill="#000" fill-opacity="1"/>
<path d="M281.30,739.10 L287.10,749.30 L275.50,749.30 Z" fill="#000" fill-opacity="1"/>
<path d="M299.85,785.20 L305.65,795.40 L294.05,795.40 Z" fill="#000" fill-opacity="1"/>
<path d="M318.40,840.20 L324.20,850.40 L312.60,850.40 Z" fill="#000" fill-opacity="1"/>
<path d="M336.95,918.70 L342.75,928.90 L331.15,928.90 Z" fill="#000" fill-opacity="1"/>
<path d="M355.50,941.70 L361.30,951.90 L349.70,951.90 Z" fill="#000" fill-opacity="1"/>
<path d="M374.05,942.70 L379.85,952.90 L368.25,952.90 Z" fill="#000" fill-opacity="1"/>
<path d="M392.60,938.70 L398.40,948.90 L386.80,948.90 Z" fill="#000" fill-opacity="1"/>
<path d="M411.15,937.50 L416.95,947.70 L405.35,947.70 Z" fill="#000" fill-opacity="1"/>
<path d="M429.70,936.20 L435.50,946.40 L423.90,946.40 Z" fill="#000" fill-opacity="1"/>
<path d="M448.25,935.20 L454.05,945.40 L442.45,945.40 Z" fill="#000" fill-opacity="1"/>
<path d="M466.80,933.20 L472.60,943.40 L461.00,943.40 Z" fill="#000" fill-opacity="1"/>
<path d="M485.35,930.60 L491.15,940.80 L479.55,940.80 Z" fill="#000" fill-opacity="1"/>
<path d="M503.90,926.20 L509.70,936.40 L498.10,936.40 Z" fill="#000" fill-opacity="1"/>
<path d="M522.45,917.50 L528.25,927.70 L516.65,927.70 Z" fill="#000" fill-opacity="1"/>
<path d="M541.00,882.90 L546.80,893.10 L535.20,893.10 Z" fill="#000" fill-opacity="1"/>
<path d="M143.50,689.50 C144.82,689.92 147.03,690.45 151.45,692.00 C155.87,693.55 163.82,696.25 170.00,698.80 C176.18,701.35 182.37,704.27 188.55,707.30 C194.73,710.33 200.92,713.35 207.10,717.00 C213.28,720.65 219.47,724.67 225.65,729.20 C231.83,733.73 238.02,737.97 244.20,744.20 C250.38,750.43 256.57,756.58 262.75,766.60 C268.93,776.62 275.12,782.97 281.30,804.30 C287.48,825.63 295.23,864.65 299.85,894.60 C304.47,924.55 307.48,969.10 309.00,984.00" fill="none" stroke="#e84848" stroke-width="1.5"/>
<path d="M310.00,969.50 L312.10,984.00 L314.20,969.29 L316.30,984.00 L318.40,969.08 L320.50,984.00 L322.60,968.87 L324.70,984.00 L326.80,968.66 L328.90,984.00 L331.00,968.45 L333.10,984.00 L335.20,968.24 L337.30,984.00 L339.40,968.03 L341.50,984.00 L343.60,966.80 L345.70,979.53 L347.80,963.65 L349.90,974.45 L352.00,960.50 L354.10,969.38 L356.20,957.35 L358.30,964.30 L360.40,954.20 L362.50,959.23 L364.60,951.05" fill="none" stroke="#f07070" stroke-width="1.2"/>
<path d="M366.00,950.00 C370.43,948.17 385.08,940.83 392.60,939.00 C400.12,937.17 404.97,939.27 411.15,939.00 C417.33,938.73 423.52,937.95 429.70,937.40 C435.88,936.85 442.07,936.82 448.25,935.70 C454.43,934.58 460.62,931.82 466.80,930.70 C472.98,929.58 479.17,930.12 485.35,929.00 C491.53,927.88 497.72,926.23 503.90,924.00 C510.08,921.77 517.87,919.18 522.45,915.60 C527.03,912.02 528.31,908.47 531.40,902.50 C534.49,896.53 539.40,883.58 541.00,879.80" fill="none" stroke="#e84848" stroke-width="1.5"/>
<circle cx="151.45" cy="692.00" r="4.7" fill="#ff6a6a" fill-opacity="0.7"/>
<circle cx="170.00" cy="698.80" r="4.7" fill="#ff6a6a" fill-opacity="0.7"/>
<circle cx="188.55" cy="707.30" r="4.7" fill="#ff6a6a" fill-opacity="0.7"/>
<circle cx="207.10" cy="717.00" r="4.7" fill="#ff6a6a" fill-opacity="0.7"/>
<circle cx="225.65" cy="729.20" r="4.7" fill="#ff6a6a" fill-opacity="0.7"/>
<circle cx="244.20" cy="744.20" r="4.7" fill="#ff6a6a" fill-opacity="0.7"/>
<circle cx="262.75" cy="766.60" r="4.7" fill="#ff6a6a" fill-opacity="0.7"/>
<circle cx="281.30" cy="804.30" r="4.7" fill="#ff6a6a" fill-opacity="0.7"/>
<circle cx="299.85" cy="894.60" r="4.7" fill="#ff6a6a" fill-opacity="0.7"/>
<circle cx="318.40" cy="969.00" r="4.7" fill="#ff6a6a" fill-opacity="0.7"/>
<circle cx="336.95" cy="990.00" r="4.7" fill="#ff6a6a" fill-opacity="0.7"/>
<circle cx="355.50" cy="953.60" r="4.7" fill="#ff6a6a" fill-opacity="0.7"/>
<circle cx="374.05" cy="946.50" r="4.7" fill="#ff6a6a" fill-opacity="0.7"/>
<circle cx="392.60" cy="939.00" r="4.7" fill="#ff6a6a" fill-opacity="0.7"/>
<circle cx="411.15" cy="939.00" r="4.7" fill="#ff6a6a" fill-opacity="0.7"/>
<circle cx="429.70" cy="937.40" r="4.7" fill="#ff6a6a" fill-opacity="0.7"/>
<circle cx="448.25" cy="935.70" r="4.7" fill="#ff6a6a" fill-opacity="0.7"/>
<circle cx="466.80" cy="930.70" r="4.7" fill="#ff6a6a" fill-opacity="0.7"/>
<circle cx="485.35" cy="929.00" r="4.7" fill="#ff6a6a" fill-opacity="0.7"/>
<circle cx="503.90" cy="924.00" r="4.7" fill="#ff6a6a" fill-opacity="0.7"/>
<circle cx="522.45" cy="915.60" r="4.7" fill="#ff6a6a" fill-opacity="0.7"/>
<circle cx="541.00" cy="879.80" r="4.7" fill="#ff6a6a" fill-opacity="0.7"/>
<path d="M143.50,648.90 C144.82,649.33 147.03,650.32 151.45,651.50 C155.87,652.68 163.82,654.57 170.00,656.00 C176.18,657.43 182.37,658.50 188.55,660.10 C194.73,661.70 200.92,663.88 207.10,665.60 C213.28,667.32 219.47,668.47 225.65,670.40 C231.83,672.33 238.02,674.63 244.20,677.20 C250.38,679.77 256.57,682.92 262.75,685.80 C268.93,688.68 275.12,691.12 281.30,694.50 C287.48,697.88 293.67,701.65 299.85,706.10 C306.03,710.55 312.22,714.82 318.40,721.20 C324.58,727.58 330.77,733.97 336.95,744.40 C343.13,754.83 349.32,763.40 355.50,783.80 C361.68,804.20 369.97,844.93 374.05,866.80 C378.13,888.67 378.34,903.37 380.00,915.00 C381.66,926.63 383.33,933.00 384.00,936.60" fill="none" stroke="#5a5af2" stroke-width="1.6"/>
<path d="M384.00,936.60 C385.43,936.73 388.08,937.27 392.60,937.40 C397.12,937.53 404.97,937.85 411.15,937.40 C417.33,936.95 423.52,935.37 429.70,934.70 C435.88,934.03 442.07,934.23 448.25,933.40 C454.43,932.57 460.62,931.00 466.80,929.70 C472.98,928.40 479.17,927.12 485.35,925.60 C491.53,924.08 497.72,923.00 503.90,920.60 C510.08,918.20 517.87,914.72 522.45,911.20 C527.03,907.68 528.31,904.73 531.40,899.50 C534.49,894.27 539.40,883.08 541.00,879.80" fill="none" stroke="#5a5af2" stroke-width="1.6"/>
<path d="M151.45,658.30 L157.05,648.10 L145.85,648.10 Z" fill="#6a6aff" fill-opacity="0.8"/>
<path d="M170.00,662.80 L175.60,652.60 L164.40,652.60 Z" fill="#6a6aff" fill-opacity="0.8"/>
<path d="M188.55,666.90 L194.15,656.70 L182.95,656.70 Z" fill="#6a6aff" fill-opacity="0.8"/>
<path d="M207.10,672.40 L212.70,662.20 L201.50,662.20 Z" fill="#6a6aff" fill-opacity="0.8"/>
<path d="M225.65,677.20 L231.25,667.00 L220.05,667.00 Z" fill="#6a6aff" fill-opacity="0.8"/>
<path d="M244.20,684.00 L249.80,673.80 L238.60,673.80 Z" fill="#6a6aff" fill-opacity="0.8"/>
<path d="M262.75,692.60 L268.35,682.40 L257.15,682.40 Z" fill="#6a6aff" fill-opacity="0.8"/>
<path d="M281.30,701.30 L286.90,691.10 L275.70,691.10 Z" fill="#6a6aff" fill-opacity="0.8"/>
<path d="M299.85,712.90 L305.45,702.70 L294.25,702.70 Z" fill="#6a6aff" fill-opacity="0.8"/>
<path d="M318.40,728.00 L324.00,717.80 L312.80,717.80 Z" fill="#6a6aff" fill-opacity="0.8"/>
<path d="M336.95,751.20 L342.55,741.00 L331.35,741.00 Z" fill="#6a6aff" fill-opacity="0.8"/>
<path d="M355.50,790.60 L361.10,780.40 L349.90,780.40 Z" fill="#6a6aff" fill-opacity="0.8"/>
<path d="M374.05,873.60 L379.65,863.40 L368.45,863.40 Z" fill="#6a6aff" fill-opacity="0.8"/>
<path d="M392.60,944.20 L398.20,934.00 L387.00,934.00 Z" fill="#6a6aff" fill-opacity="0.8"/>
<path d="M411.15,944.20 L416.75,934.00 L405.55,934.00 Z" fill="#6a6aff" fill-opacity="0.8"/>
<path d="M429.70,941.50 L435.30,931.30 L424.10,931.30 Z" fill="#6a6aff" fill-opacity="0.8"/>
<path d="M448.25,940.20 L453.85,930.00 L442.65,930.00 Z" fill="#6a6aff" fill-opacity="0.8"/>
<path d="M466.80,936.50 L472.40,926.30 L461.20,926.30 Z" fill="#6a6aff" fill-opacity="0.8"/>
<path d="M485.35,932.40 L490.95,922.20 L479.75,922.20 Z" fill="#6a6aff" fill-opacity="0.8"/>
<path d="M503.90,927.40 L509.50,917.20 L498.30,917.20 Z" fill="#6a6aff" fill-opacity="0.8"/>
<path d="M522.45,918.00 L528.05,907.80 L516.85,907.80 Z" fill="#6a6aff" fill-opacity="0.8"/>
<path d="M541.00,886.60 L546.60,876.40 L535.40,876.40 Z" fill="#6a6aff" fill-opacity="0.8"/>
<path d="M143.50,742.00 C144.82,742.92 147.03,744.43 151.45,747.50 C155.87,750.57 163.82,755.58 170.00,760.40 C176.18,765.22 182.37,770.25 188.55,776.40 C194.73,782.55 200.92,789.23 207.10,797.30 C213.28,805.37 219.47,814.47 225.65,824.80 C231.83,835.13 238.02,847.37 244.20,859.30 C250.38,871.23 258.12,884.62 262.75,896.40 C267.38,908.18 269.56,918.40 272.00,930.00 C274.44,941.60 276.50,960.00 277.40,966.00" fill="none" stroke="#d81010" stroke-width="1.8"/>
<path d="M277.40,966.00 L281.20,941.90 L286.00,929.50" fill="none" stroke="#d81010" stroke-width="1.8"/>
<path d="M286.00,929.50 C288.30,928.92 294.40,926.70 299.80,926.00 C305.20,925.30 312.21,925.55 318.40,925.30 C324.59,925.05 330.77,924.38 336.95,924.50 C343.13,924.62 349.32,923.00 355.50,926.00 C361.68,929.00 367.87,937.42 374.05,942.50 C380.23,947.58 387.03,950.00 392.60,956.50 C398.18,963.00 404.43,975.92 407.50,981.50 C410.57,987.08 410.42,988.58 411.00,990.00" fill="none" stroke="#d81010" stroke-width="1.8"/>
<path d="M436.00,990.00 C436.67,988.50 437.96,983.50 440.00,981.00 C442.04,978.50 443.78,978.58 448.25,975.00 C452.72,971.42 460.62,964.37 466.80,959.50 C472.98,954.63 479.17,951.63 485.35,945.80 C491.53,939.97 497.72,932.13 503.90,924.50 C510.08,916.87 516.27,910.55 522.45,900.00 C528.63,889.45 537.91,867.67 541.00,861.20" fill="none" stroke="#d81010" stroke-width="1.8"/>
<rect x="147.15" y="743.20" width="8.6" height="8.6" fill="#ff0000" fill-opacity="1"/>
<rect x="165.70" y="756.10" width="8.6" height="8.6" fill="#ff0000" fill-opacity="1"/>
<rect x="184.25" y="772.10" width="8.6" height="8.6" fill="#ff0000" fill-opacity="1"/>
<rect x="202.80" y="793.00" width="8.6" height="8.6" fill="#ff0000" fill-opacity="1"/>
<rect x="221.35" y="820.50" width="8.6" height="8.6" fill="#ff0000" fill-opacity="1"/>
<rect x="239.90" y="855.00" width="8.6" height="8.6" fill="#ff0000" fill-opacity="1"/>
<rect x="258.45" y="892.10" width="8.6" height="8.6" fill="#ff0000" fill-opacity="1"/>
<rect x="277.00" y="937.60" width="8.6" height="8.6" fill="#ff0000" fill-opacity="1"/>
<rect x="295.55" y="921.70" width="8.6" height="8.6" fill="#ff0000" fill-opacity="1"/>
<rect x="314.10" y="921.00" width="8.6" height="8.6" fill="#ff0000" fill-opacity="1"/>
<rect x="332.65" y="920.20" width="8.6" height="8.6" fill="#ff0000" fill-opacity="1"/>
<rect x="351.20" y="921.70" width="8.6" height="8.6" fill="#ff0000" fill-opacity="1"/>
<rect x="369.75" y="938.20" width="8.6" height="8.6" fill="#ff0000" fill-opacity="1"/>
<rect x="388.30" y="952.20" width="8.6" height="8.6" fill="#ff0000" fill-opacity="1"/>
<rect x="406.85" y="979.70" width="8.6" height="8.6" fill="#ff0000" fill-opacity="1"/>
<rect x="425.40" y="985.70" width="8.6" height="8.6" fill="#ff0000" fill-opacity="1"/>
<rect x="443.95" y="970.70" width="8.6" height="8.6" fill="#ff0000" fill-opacity="1"/>
<rect x="462.50" y="955.20" width="8.6" height="8.6" fill="#ff0000" fill-opacity="1"/>
<rect x="481.05" y="941.50" width="8.6" height="8.6" fill="#ff0000" fill-opacity="1"/>
<rect x="499.60" y="920.20" width="8.6" height="8.6" fill="#ff0000" fill-opacity="1"/>
<rect x="518.15" y="895.70" width="8.6" height="8.6" fill="#ff0000" fill-opacity="1"/>
<rect x="536.70" y="856.90" width="8.6" height="8.6" fill="#ff0000" fill-opacity="1"/>
</g>
<rect x="110.0" y="562.3" width="563.3" height="419.5" fill="none" stroke="#000" stroke-width="2"/>
<text x="93.9" y="988.40" font-size="20.2" text-anchor="end">1E–11</text>
<text x="93.9" y="940.20" font-size="20.2" text-anchor="end">1E–10</text>
<text x="93.9" y="892.00" font-size="20.2" text-anchor="end">1E–9</text>
<text x="93.9" y="843.80" font-size="20.2" text-anchor="end">1E–8</text>
<text x="93.9" y="795.60" font-size="20.2" text-anchor="end">1E–7</text>
<text x="93.9" y="747.40" font-size="20.2" text-anchor="end">1E–6</text>
<text x="93.9" y="699.20" font-size="20.2" text-anchor="end">1E–5</text>
<text x="93.9" y="651.00" font-size="20.2" text-anchor="end">1E–4</text>
<text x="93.9" y="602.80" font-size="20.2" text-anchor="end">1E–3</text>
<text x="143.50" y="1017.4" font-size="20" text-anchor="middle">–20</text>
<text x="209.75" y="1017.4" font-size="20" text-anchor="middle">–15</text>
<text x="276.00" y="1017.4" font-size="20" text-anchor="middle">–10</text>
<text x="342.25" y="1017.4" font-size="20" text-anchor="middle">–5</text>
<text x="408.50" y="1017.4" font-size="20" text-anchor="middle">0</text>
<text x="474.75" y="1017.4" font-size="20" text-anchor="middle">5</text>
<text x="541.00" y="1017.4" font-size="20" text-anchor="middle">10</text>
<text x="607.25" y="1017.4" font-size="20" text-anchor="middle">15</text>
<text x="673.50" y="1017.4" font-size="20" text-anchor="middle">20</text>
<line x1="101.0" y1="981.80" x2="110.0" y2="981.80" stroke="#000" stroke-width="2"/>
<line x1="105.0" y1="967.29" x2="110.0" y2="967.29" stroke="#000" stroke-width="1.6"/>
<line x1="105.0" y1="958.80" x2="110.0" y2="958.80" stroke="#000" stroke-width="1.6"/>
<line x1="105.0" y1="952.78" x2="110.0" y2="952.78" stroke="#000" stroke-width="1.6"/>
<line x1="105.0" y1="948.11" x2="110.0" y2="948.11" stroke="#000" stroke-width="1.6"/>
<line x1="105.0" y1="944.29" x2="110.0" y2="944.29" stroke="#000" stroke-width="1.6"/>
<line x1="105.0" y1="941.07" x2="110.0" y2="941.07" stroke="#000" stroke-width="1.6"/>
<line x1="105.0" y1="938.27" x2="110.0" y2="938.27" stroke="#000" stroke-width="1.6"/>
<line x1="105.0" y1="935.81" x2="110.0" y2="935.81" stroke="#000" stroke-width="1.6"/>
<line x1="101.0" y1="933.60" x2="110.0" y2="933.60" stroke="#000" stroke-width="2"/>
<line x1="105.0" y1="919.09" x2="110.0" y2="919.09" stroke="#000" stroke-width="1.6"/>
<line x1="105.0" y1="910.60" x2="110.0" y2="910.60" stroke="#000" stroke-width="1.6"/>
<line x1="105.0" y1="904.58" x2="110.0" y2="904.58" stroke="#000" stroke-width="1.6"/>
<line x1="105.0" y1="899.91" x2="110.0" y2="899.91" stroke="#000" stroke-width="1.6"/>
<line x1="105.0" y1="896.09" x2="110.0" y2="896.09" stroke="#000" stroke-width="1.6"/>
<line x1="105.0" y1="892.87" x2="110.0" y2="892.87" stroke="#000" stroke-width="1.6"/>
<line x1="105.0" y1="890.07" x2="110.0" y2="890.07" stroke="#000" stroke-width="1.6"/>
<line x1="105.0" y1="887.61" x2="110.0" y2="887.61" stroke="#000" stroke-width="1.6"/>
<line x1="101.0" y1="885.40" x2="110.0" y2="885.40" stroke="#000" stroke-width="2"/>
<line x1="105.0" y1="870.89" x2="110.0" y2="870.89" stroke="#000" stroke-width="1.6"/>
<line x1="105.0" y1="862.40" x2="110.0" y2="862.40" stroke="#000" stroke-width="1.6"/>
<line x1="105.0" y1="856.38" x2="110.0" y2="856.38" stroke="#000" stroke-width="1.6"/>
<line x1="105.0" y1="851.71" x2="110.0" y2="851.71" stroke="#000" stroke-width="1.6"/>
<line x1="105.0" y1="847.89" x2="110.0" y2="847.89" stroke="#000" stroke-width="1.6"/>
<line x1="105.0" y1="844.67" x2="110.0" y2="844.67" stroke="#000" stroke-width="1.6"/>
<line x1="105.0" y1="841.87" x2="110.0" y2="841.87" stroke="#000" stroke-width="1.6"/>
<line x1="105.0" y1="839.41" x2="110.0" y2="839.41" stroke="#000" stroke-width="1.6"/>
<line x1="101.0" y1="837.20" x2="110.0" y2="837.20" stroke="#000" stroke-width="2"/>
<line x1="105.0" y1="822.69" x2="110.0" y2="822.69" stroke="#000" stroke-width="1.6"/>
<line x1="105.0" y1="814.20" x2="110.0" y2="814.20" stroke="#000" stroke-width="1.6"/>
<line x1="105.0" y1="808.18" x2="110.0" y2="808.18" stroke="#000" stroke-width="1.6"/>
<line x1="105.0" y1="803.51" x2="110.0" y2="803.51" stroke="#000" stroke-width="1.6"/>
<line x1="105.0" y1="799.69" x2="110.0" y2="799.69" stroke="#000" stroke-width="1.6"/>
<line x1="105.0" y1="796.47" x2="110.0" y2="796.47" stroke="#000" stroke-width="1.6"/>
<line x1="105.0" y1="793.67" x2="110.0" y2="793.67" stroke="#000" stroke-width="1.6"/>
<line x1="105.0" y1="791.21" x2="110.0" y2="791.21" stroke="#000" stroke-width="1.6"/>
<line x1="101.0" y1="789.00" x2="110.0" y2="789.00" stroke="#000" stroke-width="2"/>
<line x1="105.0" y1="774.49" x2="110.0" y2="774.49" stroke="#000" stroke-width="1.6"/>
<line x1="105.0" y1="766.00" x2="110.0" y2="766.00" stroke="#000" stroke-width="1.6"/>
<line x1="105.0" y1="759.98" x2="110.0" y2="759.98" stroke="#000" stroke-width="1.6"/>
<line x1="105.0" y1="755.31" x2="110.0" y2="755.31" stroke="#000" stroke-width="1.6"/>
<line x1="105.0" y1="751.49" x2="110.0" y2="751.49" stroke="#000" stroke-width="1.6"/>
<line x1="105.0" y1="748.27" x2="110.0" y2="748.27" stroke="#000" stroke-width="1.6"/>
<line x1="105.0" y1="745.47" x2="110.0" y2="745.47" stroke="#000" stroke-width="1.6"/>
<line x1="105.0" y1="743.01" x2="110.0" y2="743.01" stroke="#000" stroke-width="1.6"/>
<line x1="101.0" y1="740.80" x2="110.0" y2="740.80" stroke="#000" stroke-width="2"/>
<line x1="105.0" y1="726.29" x2="110.0" y2="726.29" stroke="#000" stroke-width="1.6"/>
<line x1="105.0" y1="717.80" x2="110.0" y2="717.80" stroke="#000" stroke-width="1.6"/>
<line x1="105.0" y1="711.78" x2="110.0" y2="711.78" stroke="#000" stroke-width="1.6"/>
<line x1="105.0" y1="707.11" x2="110.0" y2="707.11" stroke="#000" stroke-width="1.6"/>
<line x1="105.0" y1="703.29" x2="110.0" y2="703.29" stroke="#000" stroke-width="1.6"/>
<line x1="105.0" y1="700.07" x2="110.0" y2="700.07" stroke="#000" stroke-width="1.6"/>
<line x1="105.0" y1="697.27" x2="110.0" y2="697.27" stroke="#000" stroke-width="1.6"/>
<line x1="105.0" y1="694.81" x2="110.0" y2="694.81" stroke="#000" stroke-width="1.6"/>
<line x1="101.0" y1="692.60" x2="110.0" y2="692.60" stroke="#000" stroke-width="2"/>
<line x1="105.0" y1="678.09" x2="110.0" y2="678.09" stroke="#000" stroke-width="1.6"/>
<line x1="105.0" y1="669.60" x2="110.0" y2="669.60" stroke="#000" stroke-width="1.6"/>
<line x1="105.0" y1="663.58" x2="110.0" y2="663.58" stroke="#000" stroke-width="1.6"/>
<line x1="105.0" y1="658.91" x2="110.0" y2="658.91" stroke="#000" stroke-width="1.6"/>
<line x1="105.0" y1="655.09" x2="110.0" y2="655.09" stroke="#000" stroke-width="1.6"/>
<line x1="105.0" y1="651.87" x2="110.0" y2="651.87" stroke="#000" stroke-width="1.6"/>
<line x1="105.0" y1="649.07" x2="110.0" y2="649.07" stroke="#000" stroke-width="1.6"/>
<line x1="105.0" y1="646.61" x2="110.0" y2="646.61" stroke="#000" stroke-width="1.6"/>
<line x1="101.0" y1="644.40" x2="110.0" y2="644.40" stroke="#000" stroke-width="2"/>
<line x1="105.0" y1="629.89" x2="110.0" y2="629.89" stroke="#000" stroke-width="1.6"/>
<line x1="105.0" y1="621.40" x2="110.0" y2="621.40" stroke="#000" stroke-width="1.6"/>
<line x1="105.0" y1="615.38" x2="110.0" y2="615.38" stroke="#000" stroke-width="1.6"/>
<line x1="105.0" y1="610.71" x2="110.0" y2="610.71" stroke="#000" stroke-width="1.6"/>
<line x1="105.0" y1="606.89" x2="110.0" y2="606.89" stroke="#000" stroke-width="1.6"/>
<line x1="105.0" y1="603.67" x2="110.0" y2="603.67" stroke="#000" stroke-width="1.6"/>
<line x1="105.0" y1="600.87" x2="110.0" y2="600.87" stroke="#000" stroke-width="1.6"/>
<line x1="105.0" y1="598.41" x2="110.0" y2="598.41" stroke="#000" stroke-width="1.6"/>
<line x1="101.0" y1="596.20" x2="110.0" y2="596.20" stroke="#000" stroke-width="2"/>
<line x1="105.0" y1="581.69" x2="110.0" y2="581.69" stroke="#000" stroke-width="1.6"/>
<line x1="105.0" y1="573.20" x2="110.0" y2="573.20" stroke="#000" stroke-width="1.6"/>
<line x1="105.0" y1="567.18" x2="110.0" y2="567.18" stroke="#000" stroke-width="1.6"/>
<line x1="105.0" y1="562.51" x2="110.0" y2="562.51" stroke="#000" stroke-width="1.6"/>
<line x1="143.50" y1="981.8" x2="143.50" y2="990.8" stroke="#000" stroke-width="2"/>
<line x1="209.75" y1="981.8" x2="209.75" y2="990.8" stroke="#000" stroke-width="2"/>
<line x1="276.00" y1="981.8" x2="276.00" y2="990.8" stroke="#000" stroke-width="2"/>
<line x1="342.25" y1="981.8" x2="342.25" y2="990.8" stroke="#000" stroke-width="2"/>
<line x1="408.50" y1="981.8" x2="408.50" y2="990.8" stroke="#000" stroke-width="2"/>
<line x1="474.75" y1="981.8" x2="474.75" y2="990.8" stroke="#000" stroke-width="2"/>
<line x1="541.00" y1="981.8" x2="541.00" y2="990.8" stroke="#000" stroke-width="2"/>
<line x1="607.25" y1="981.8" x2="607.25" y2="990.8" stroke="#000" stroke-width="2"/>
<line x1="673.50" y1="981.8" x2="673.50" y2="990.8" stroke="#000" stroke-width="2"/>
<line x1="110.38" y1="981.8" x2="110.38" y2="986.8" stroke="#000" stroke-width="2"/>
<line x1="176.62" y1="981.8" x2="176.62" y2="986.8" stroke="#000" stroke-width="2"/>
<line x1="242.88" y1="981.8" x2="242.88" y2="986.8" stroke="#000" stroke-width="2"/>
<line x1="309.12" y1="981.8" x2="309.12" y2="986.8" stroke="#000" stroke-width="2"/>
<line x1="375.38" y1="981.8" x2="375.38" y2="986.8" stroke="#000" stroke-width="2"/>
<line x1="441.62" y1="981.8" x2="441.62" y2="986.8" stroke="#000" stroke-width="2"/>
<line x1="507.88" y1="981.8" x2="507.88" y2="986.8" stroke="#000" stroke-width="2"/>
<line x1="574.12" y1="981.8" x2="574.12" y2="986.8" stroke="#000" stroke-width="2"/>
<line x1="640.38" y1="981.8" x2="640.38" y2="986.8" stroke="#000" stroke-width="2"/>
<text x="137.5" y="916.7" font-size="20"><tspan font-style="italic">V</tspan><tspan font-size="13" dy="5.5">DS</tspan><tspan dy="-5.5">=–20 V</tspan></text>
<text x="352.6" y="1052.1" font-size="20.7"><tspan font-style="italic">V</tspan><tspan font-size="13.6" dy="6">GS</tspan><tspan dy="-6"> (V)</tspan></text>
<text transform="translate(17.1,773.25) rotate(-90)" font-size="20.7" text-anchor="middle">abs(<tspan font-style="italic">I</tspan><tspan font-size="13.6" dy="6">D</tspan><tspan dy="-6">)(A)</tspan></text>
<rect x="418.3" y="571.6" width="244.7" height="150.79999999999995" fill="#fff" stroke="#000" stroke-width="1.6"/>
<line x1="424.4" y1="594.0" x2="465.1" y2="594.0" stroke="#d81010" stroke-width="1.8"/>
<rect x="441.70" y="589.70" width="8.6" height="8.6" fill="#ff0000" fill-opacity="1"/>
<text x="476.0" y="601.20" font-size="20.5">1 wt% n-doped</text>
<line x1="424.4" y1="620.7" x2="465.1" y2="620.7" stroke="#e84848" stroke-width="1.8"/>
<circle cx="446.00" cy="620.70" r="4.7" fill="#ff6a6a" fill-opacity="0.7"/>
<text x="476.0" y="627.90" font-size="20.5">0.5 wt% n-doped</text>
<line x1="424.4" y1="647.4" x2="465.1" y2="647.4" stroke="#000" stroke-width="1.8"/>
<path d="M446.00,640.60 L451.80,650.80 L440.20,650.80 Z" fill="#000" fill-opacity="1"/>
<text x="476.0" y="654.60" font-size="20.5">Intrinsic</text>
<line x1="424.4" y1="674.1" x2="465.1" y2="674.1" stroke="#5a5af2" stroke-width="1.8"/>
<path d="M446.00,680.90 L451.60,670.70 L440.40,670.70 Z" fill="#6a6aff" fill-opacity="0.8"/>
<text x="476.0" y="681.30" font-size="20.5">0.5 wt% p-doped</text>
<line x1="424.4" y1="700.8" x2="465.1" y2="700.8" stroke="#0a0ad8" stroke-width="1.8"/>
<path d="M446.00,694.40 L452.20,700.80 L446.00,707.20 L439.80,700.80 Z" fill="#0000ff" fill-opacity="1"/>
<text x="476.0" y="708.00" font-size="20.5">2 wt% p-doped</text>
</svg>
</body></html>
